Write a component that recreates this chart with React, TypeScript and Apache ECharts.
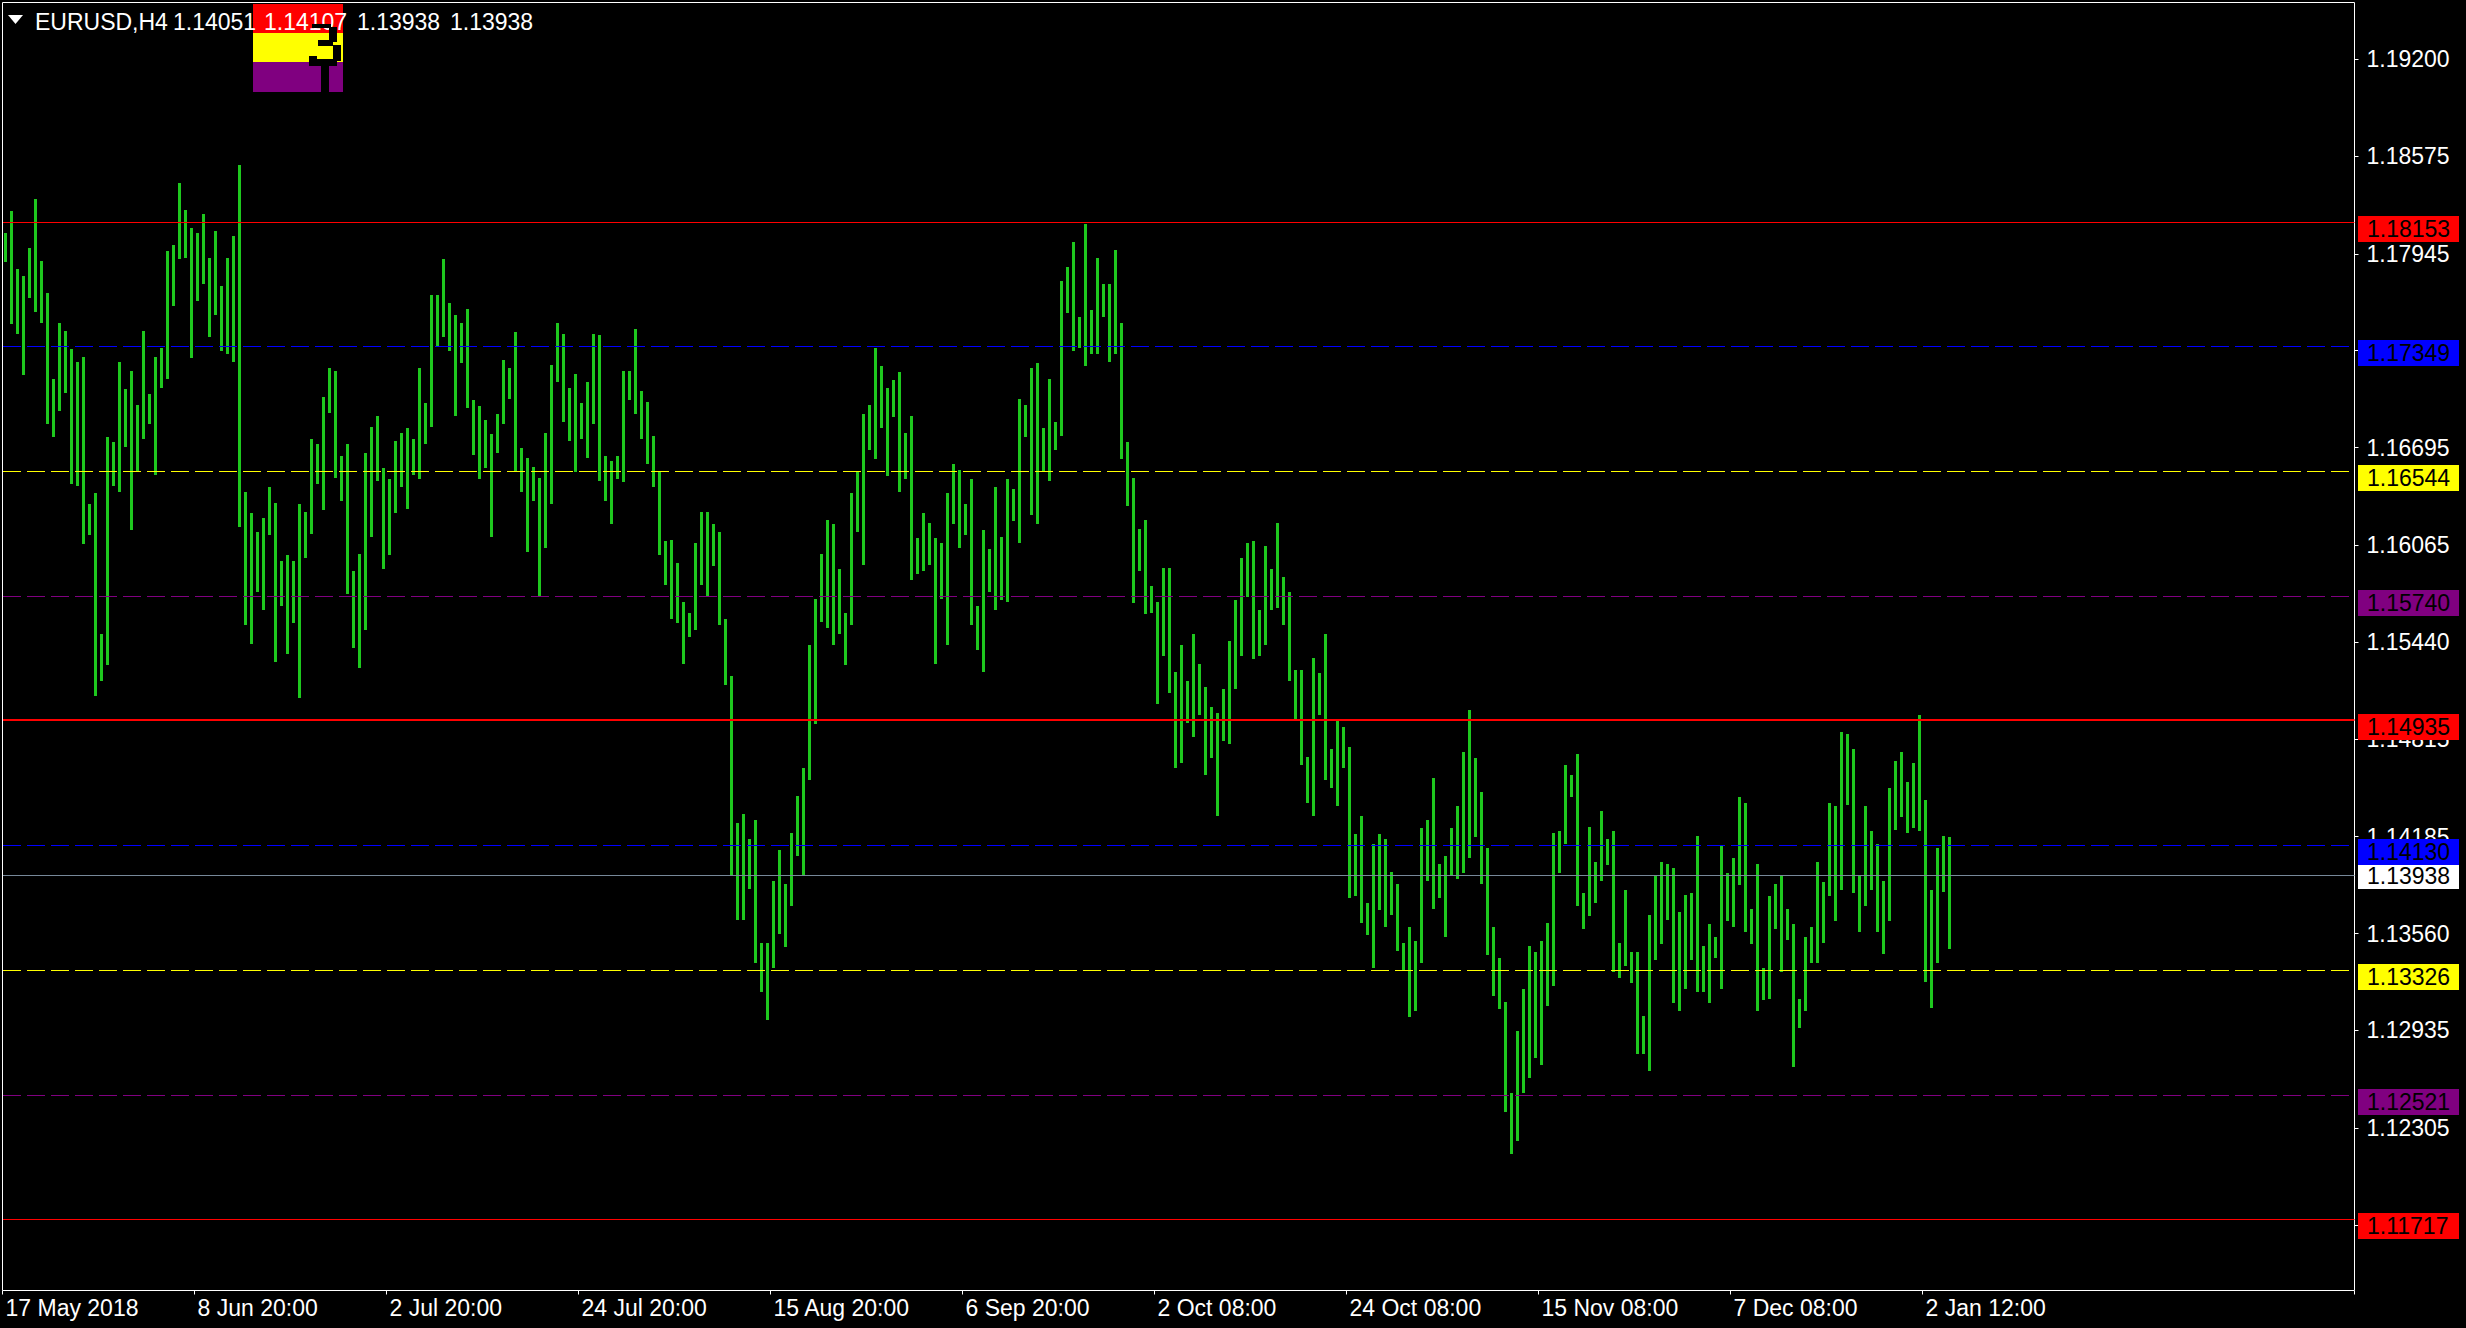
import React, { useEffect, useRef } from "react";
import * as echarts from "echarts";

// ---- data (EURUSD H4, one mark = 3 consecutive H4 bars) ----
const TICK_LABELS = [
  "17 May 2018", "8 Jun 20:00", "2 Jul 20:00", "24 Jul 20:00", "15 Aug 20:00",
  "6 Sep 20:00", "2 Oct 08:00", "24 Oct 08:00", "15 Nov 08:00", "7 Dec 08:00", "2 Jan 12:00",
];
const TICK_STEP = 32;
const CATEGORY_COUNT = 392;

const HIGHS = [
  1.1808,1.1822,1.1785,1.1780,1.1798,1.1830,1.1790,1.1769,1.1714,1.1750,
  1.1745,1.1733,1.1725,1.1728,1.1633,1.1640,1.1549,1.1676,1.1673,1.1725,
  1.1707,1.1719,1.1697,1.1745,1.1704,1.1728,1.1734,1.1796,1.1800,1.1840,
  1.1823,1.1811,1.1808,1.1820,1.1792,1.1809,1.1774,1.1792,1.1806,1.1852,
  1.1641,1.1627,1.1615,1.1624,1.1644,1.1634,1.1596,1.1600,1.1596,1.1633,
  1.1628,1.1675,1.1672,1.1702,1.1721,1.1719,1.1664,1.1672,1.1590,1.1601,
  1.1666,1.1683,1.1690,1.1656,1.1649,1.1674,1.1679,1.1682,1.1675,1.1721,
  1.1698,1.1768,1.1768,1.1791,1.1763,1.1755,1.1750,1.1759,1.1700,1.1696,
  1.1687,1.1678,1.1691,1.1726,1.1721,1.1744,1.1669,1.1663,1.1657,1.1650,
  1.1679,1.1723,1.1750,1.1743,1.1708,1.1717,1.1698,1.1712,1.1743,1.1742,
  1.1664,1.1661,1.1664,1.1719,1.1719,1.1746,1.1706,1.1699,1.1677,1.1654,
  1.1609,1.1610,1.1595,1.1570,1.1563,1.1608,1.1628,1.1628,1.1620,1.1615,
  1.1559,1.1522,1.1427,1.1433,1.1417,1.1429,1.1350,1.1350,1.1390,1.1410,
  1.1388,1.1421,1.1445,1.1463,1.1542,1.1572,1.1601,1.1623,1.1620,1.1591,
  1.1563,1.1640,1.1654,1.1691,1.1697,1.1734,1.1722,1.1708,1.1713,1.1718,
  1.1679,1.1690,1.1611,1.1627,1.1621,1.1611,1.1608,1.1640,1.1659,1.1655,
  1.1633,1.1649,1.1567,1.1616,1.1604,1.1644,1.1612,1.1649,1.1643,1.1701,
  1.1697,1.1721,1.1724,1.1682,1.1714,1.1686,1.1777,1.1786,1.1802,1.1754,
  1.1814,1.1758,1.1792,1.1775,1.1775,1.1797,1.1750,1.1673,1.1650,1.1617,
  1.1623,1.1580,1.1570,1.1592,1.1592,1.1525,1.1542,1.1519,1.1549,1.1530,
  1.1515,1.1502,1.1498,1.1514,1.1545,1.1571,1.1598,1.1608,1.1609,1.1565,
  1.1606,1.1591,1.1621,1.1586,1.1576,1.1526,1.1526,1.1470,1.1534,1.1524,
  1.1549,1.1475,1.1494,1.1489,1.1476,1.1420,1.1432,1.1376,1.1414,1.1420,
  1.1417,1.1396,1.1388,1.1350,1.1360,1.1351,1.1424,1.1429,1.1456,1.1401,
  1.1406,1.1424,1.1438,1.1473,1.1500,1.1469,1.1447,1.1411,1.1360,1.1340,
  1.1312,1.1253,1.1293,1.1320,1.1348,1.1344,1.1351,1.1363,1.1421,1.1422,
  1.1465,1.1458,1.1472,1.1382,1.1425,1.1402,1.1435,1.1417,1.1422,1.1350,
  1.1384,1.1344,1.1344,1.1303,1.1368,1.1393,1.1402,1.1401,1.1398,1.1370,
  1.1381,1.1382,1.1419,1.1348,1.1362,1.1354,1.1413,1.1395,1.1405,1.1444,
  1.1440,1.1372,1.1401,1.1334,1.1380,1.1388,1.1393,1.1372,1.1362,1.1314,
  1.1354,1.1360,1.1402,1.1389,1.1440,1.1438,1.1486,1.1485,1.1475,1.1393,
  1.1438,1.1422,1.1414,1.1390,1.1450,1.1467,1.1473,1.1454,1.1466,1.1497,
  1.1442,1.1384,1.1411,1.1419,1.1418,
];

const LOWS = [
  1.1789,1.1749,1.1743,1.1716,1.1766,1.1757,1.1750,1.1685,1.1676,1.1693,
  1.1705,1.1646,1.1645,1.1607,1.1613,1.1509,1.1519,1.1529,1.1645,1.1641,
  1.1670,1.1616,1.1654,1.1675,1.1685,1.1652,1.1708,1.1714,1.1761,1.1791,
  1.1792,1.1727,1.1764,1.1775,1.1741,1.1755,1.1732,1.1730,1.1725,1.1618,
  1.1555,1.1543,1.1576,1.1565,1.1613,1.1531,1.1567,1.1536,1.1556,1.1508,
  1.1598,1.1614,1.1646,1.1629,1.1692,1.1650,1.1635,1.1575,1.1540,1.1527,
  1.1552,1.1612,1.1648,1.1591,1.1600,1.1627,1.1644,1.1630,1.1652,1.1649,
  1.1672,1.1683,1.1735,1.1741,1.1732,1.1690,1.1724,1.1695,1.1665,1.1649,
  1.1656,1.1612,1.1666,1.1685,1.1701,1.1654,1.1641,1.1602,1.1635,1.1574,
  1.1605,1.1633,1.1712,1.1686,1.1674,1.1654,1.1675,1.1663,1.1685,1.1648,
  1.1635,1.1620,1.1649,1.1647,1.1700,1.1691,1.1675,1.1659,1.1644,1.1600,
  1.1581,1.1559,1.1556,1.1530,1.1547,1.1552,1.1581,1.1573,1.1593,1.1555,
  1.1516,1.1393,1.1365,1.1365,1.1385,1.1337,1.1318,1.1300,1.1334,1.1356,
  1.1347,1.1374,1.1406,1.1394,1.1455,1.1491,1.1557,1.1553,1.1542,1.1549,
  1.1529,1.1555,1.1615,1.1594,1.1668,1.1662,1.1682,1.1651,1.1689,1.1641,
  1.1649,1.1584,1.1588,1.1590,1.1594,1.1530,1.1572,1.1542,1.1620,1.1605,
  1.1613,1.1555,1.1539,1.1525,1.1576,1.1565,1.1571,1.1570,1.1622,1.1608,
  1.1676,1.1626,1.1620,1.1654,1.1648,1.1668,1.1677,1.1756,1.1732,1.1734,
  1.1722,1.1730,1.1730,1.1754,1.1725,1.1730,1.1662,1.1632,1.1569,1.1590,
  1.1562,1.1563,1.1504,1.1535,1.1511,1.1463,1.1466,1.1492,1.1483,1.1497,
  1.1458,1.1469,1.1432,1.1480,1.1478,1.1514,1.1535,1.1573,1.1533,1.1535,
  1.1542,1.1565,1.1566,1.1555,1.1519,1.1494,1.1465,1.1440,1.1432,1.1497,
  1.1455,1.1450,1.1438,1.1463,1.1379,1.1380,1.1363,1.1355,1.1334,1.1371,
  1.1360,1.1368,1.1345,1.1332,1.1302,1.1306,1.1337,1.1390,1.1372,1.1379,
  1.1354,1.1393,1.1391,1.1395,1.1405,1.1418,1.1388,1.1342,1.1316,1.1307,
  1.1241,1.1214,1.1222,1.1253,1.1263,1.1276,1.1271,1.1309,1.1322,1.1395,
  1.1414,1.1444,1.1374,1.1359,1.1367,1.1376,1.1390,1.1400,1.1331,1.1327,
  1.1335,1.1324,1.1278,1.1278,1.1267,1.1339,1.1349,1.1365,1.1311,1.1306,
  1.1320,1.1339,1.1318,1.1318,1.1311,1.1340,1.1320,1.1364,1.1360,1.1387,
  1.1357,1.1349,1.1306,1.1313,1.1314,1.1359,1.1331,1.1352,1.1270,1.1295,
  1.1306,1.1337,1.1337,1.1350,1.1380,1.1364,1.1384,1.1439,1.1382,1.1357,
  1.1374,1.1384,1.1357,1.1343,1.1364,1.1423,1.1431,1.1421,1.1424,1.1422,
  1.1325,1.1308,1.1337,1.1383,1.1346,
];

const Y_LABELS = [1.192, 1.18575, 1.17945, 1.1732, 1.16695, 1.16065, 1.1544, 1.14815, 1.14185, 1.1356, 1.12935, 1.12305, 1.1168];
const LEVEL_PRICES = [1.18153, 1.17349, 1.16544, 1.1574, 1.14935, 1.1413, 1.13326, 1.12521, 1.11717];
const LEVEL_KINDS = ["red", "blue", "yellow", "purple", "red", "blue", "yellow", "purple", "red"];
const LEVEL_WIDTHS = [1, 1, 1, 1, 2, 1, 1, 1, 1];
const CURRENT_PRICE = 1.13938;
const TITLE_PARTS = ["EURUSD,H4", "1.14051", "1.14107", "1.13938", "1.13938"];
const Y_MIN = 1.11257;
const Y_MAX = 1.19566;

// ---- styles ----
const FONT = "Liberation Sans";
const BAR_COLOR = "#1ec81e";
const KIND_STYLE: Record<string, { line: string; box: string; dashed: boolean }> = {
  red: { line: "#ff0000", box: "#ff0000", dashed: false },
  blue: { line: "#0000ff", box: "#0000ff", dashed: true },
  yellow: { line: "#ffff00", box: "#ffff00", dashed: true },
  purple: { line: "#800080", box: "#800080", dashed: true },
  current: { line: "#778899", box: "#ffffff", dashed: false },
};
const TITLE_X = [35, 173, 264, 357, 450];

export default function App() {
  const ref = useRef<HTMLDivElement>(null);

  useEffect(() => {
    document.body.style.margin = "0";
    document.body.style.background = "#000";
    const chart = echarts.init(ref.current!, null, { renderer: "svg" });

    const categories = Array.from({ length: CATEGORY_COUNT }, (_, i) =>
      i % TICK_STEP === 0 && TICK_LABELS[i / TICK_STEP] ? TICK_LABELS[i / TICK_STEP] : ""
    );
    const bars = HIGHS.map((h, i) => [i, h, LOWS[i]]);
    const levels: any[] = [[0, CURRENT_PRICE, -1]].concat(LEVEL_PRICES.map((p, j) => [0, p, j]));

    const flagX = 253, flagW = 90, flagTop = 4, band = 29;
    const g = (y: number) => flagTop + (y - 4) * 0.87;
    const glyph = [
      [312, 27, 19, 5], [329, 31, 8, 17], [318, 45, 15, 7], [333, 51, 8, 18],
      [310, 67, 27, 8], [309, 64, 8, 11],
    ];

    const option: any = {
      animation: false,
      backgroundColor: "#000",
      grid: {
        left: 2.5, right: 111.5, top: 2.5, bottom: 37.5,
        show: true, borderColor: "#ffffff", borderWidth: 1, backgroundColor: "#000",
      },
      xAxis: {
        type: "category",
        data: categories,
        boundaryGap: true,
        axisLine: { show: false },
        axisTick: {
          show: true, length: 4, alignWithLabel: false,
          interval: (_i: number, v: string) => v !== "",
          lineStyle: { color: "#ffffff", width: 1 },
        },
        axisLabel: {
          show: true, interval: (_i: number, v: string) => v !== "",
          color: "#ffffff", fontFamily: FONT, fontSize: 23, align: "left", margin: 6,
        },
        splitLine: { show: false },
      },
      yAxis: {
        type: "value",
        position: "right",
        min: Y_MIN,
        max: Y_MAX,
        scale: true,
        axisLine: { show: false },
        axisTick: { show: true, length: 4, customValues: Y_LABELS, lineStyle: { color: "#ffffff" } },
        axisLabel: {
          show: true, customValues: Y_LABELS, color: "#ffffff", fontFamily: FONT, fontSize: 23, margin: 12,
          formatter: (v: number) => v.toFixed(5),
        },
        splitLine: { show: false },
      },
      series: [
        {
          type: "custom",
          name: "EURUSD",
          data: bars,
          encode: { x: 0, y: [1, 2] },
          z: 2,
          renderItem: (_params: any, api: any) => {
            const i = api.value(0);
            const top = api.coord([i, api.value(1)]);
            const bot = api.coord([i, api.value(2)]);
            const w = 3;
            const x = Math.round(top[0] - w / 2);
            const y = Math.round(top[1]);
            return {
              type: "rect",
              shape: { x, y, width: w, height: Math.max(1, Math.round(bot[1]) - y) },
              style: { fill: BAR_COLOR },
            };
          },
        },
        {
          type: "custom",
          name: "levels",
          data: levels,
          encode: { x: 0, y: 1 },
          z: 5,
          clip: false,
          renderItem: (params: any, api: any) => {
            const j = api.value(2);
            const price = api.value(1);
            const kind = j < 0 ? "current" : LEVEL_KINDS[j];
            const st = KIND_STYLE[kind];
            const lw = j < 0 ? 1 : LEVEL_WIDTHS[j];
            const cs = params.coordSys;
            const y = api.coord([0, price])[1];
            const yl = lw % 2 === 1 ? Math.round(y) + 0.5 : Math.round(y);
            const off = j < 0 ? 1 : 7;
            const right = cs.x + cs.width;
            return {
              type: "group",
              children: [
                {
                  type: "line",
                  shape: { x1: cs.x + 0.5, y1: yl, x2: right, y2: yl },
                  style: { stroke: st.line, lineWidth: lw, lineDash: st.dashed ? [18, 6] : null },
                },
                {
                  type: "rect",
                  shape: { x: Math.round(right) + 3, y: Math.round(y + off - 13), width: 101, height: 26 },
                  style: { fill: st.box },
                },
                {
                  type: "text",
                  x: Math.round(right) + 12,
                  y: y + off,
                  style: {
                    text: price.toFixed(5), fill: "#000000", fontFamily: FONT, fontSize: 23,
                    verticalAlign: "middle", align: "left",
                  },
                },
              ],
            };
          },
        },
      ],
      graphic: {
        elements: [
          { type: "polygon", shape: { points: [[8, 15], [23, 15], [15.5, 24]] }, style: { fill: "#ffffff" }, z: 10 },
          { type: "rect", shape: { x: flagX, y: flagTop, width: flagW, height: band }, style: { fill: "#ff0000" }, z: 10 },
          { type: "rect", shape: { x: flagX, y: flagTop + band, width: flagW, height: band }, style: { fill: "#ffff00" }, z: 10 },
          { type: "rect", shape: { x: flagX, y: flagTop + 2 * band, width: flagW, height: band + 1 }, style: { fill: "#800080" }, z: 10 },
          ...TITLE_PARTS.map((t, k) => ({
            type: "text", x: TITLE_X[k], y: 22, z: 11,
            style: { text: t, fill: "#ffffff", fontFamily: FONT, fontSize: 23, verticalAlign: "middle" },
          })),
          ...glyph.map(([x, y, w, h]) => ({
            type: "rect", z: 12,
            shape: { x, y: Math.round(g(y)), width: w, height: Math.round(h * 0.87) },
            style: { fill: "#000" },
          })),
          {
            type: "rect", z: 12,
            shape: { x: 321, y: Math.round(g(73)), width: 8, height: flagTop + 3 * band + 1 - Math.round(g(73)) },
            style: { fill: "#000" },
          },
        ],
      },
    };

    chart.setOption(option);
    return () => chart.dispose();
  }, []);

  return (
    <div
      ref={ref}
      style={{ position: "absolute", left: 0, top: 0, width: 2466, height: 1328, background: "#000" }}
    />
  );
}
